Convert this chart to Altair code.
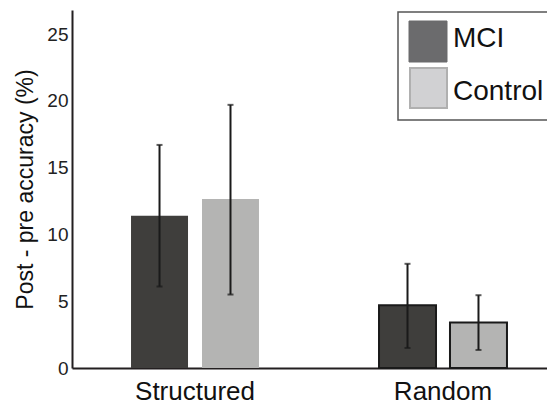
import altair as alt
import pandas as pd

categories = ["Structured", "Structured", "Random", "Random"]
groups = ["MCI", "Control", "MCI", "Control"]
means = [11.4, 12.65, 4.7, 3.4]
err_low = [6.1, 5.5, 1.5, 1.35]
err_high = [16.7, 19.7, 7.8, 5.45]
bar_colors = ["#3f3e3c", "#b4b4b3"]
legend_labels = ["MCI", "Control"]
legend_colors = ["#6b6b6d", "#d1d1d3"]
y_ticks = [0, 5, 10, 15, 20, 25]

df = pd.DataFrame({
    "category": categories,
    "group": groups,
    "mean": means,
    "lo": err_low,
    "hi": err_high,
})

FONT = "Liberation Sans"

x = alt.X(
    "category:N",
    sort=["Structured", "Random"],
    scale=alt.Scale(range=[0, 494], paddingInner=0.484, paddingOuter=0.238),
    axis=alt.Axis(title=None, labelAngle=0, labelFontSize=26, labelFont=FONT,
                  labelColor="#111", domainColor="#231f20", domainWidth=2,
                  ticks=False, labelPadding=10),
)
xo = alt.XOffset("group:N", sort=["MCI", "Control"],
                 scale=alt.Scale(paddingInner=0.197, paddingOuter=0))
y = alt.Y(
    "mean:Q",
    scale=alt.Scale(domain=[0, 26.8], nice=False),
    axis=alt.Axis(title="Post - pre accuracy (%)", values=y_ticks, ticks=False,
                  grid=False, labelFontSize=19, labelFont=FONT, labelColor="#222",
                  labelPadding=4, titleFont=FONT, titleFontSize=23,
                  titleFontWeight="normal", titleColor="#111", titlePadding=9,
                  domainColor="#231f20", domainWidth=2),
)

base = alt.Chart(df)

bars = base.mark_bar().encode(
    x=x, xOffset=xo, y=y,
    fill=alt.Fill("group:N", sort=["MCI", "Control"],
                  scale=alt.Scale(domain=["MCI", "Control"], range=bar_colors),
                  legend=None),
    stroke=alt.condition("datum.category == 'Random'", alt.value("#1a1a1a"), alt.value(None)),
    strokeWidth=alt.condition("datum.category == 'Random'", alt.value(2), alt.value(0)),
)

rules = base.mark_rule(color="#1a1a1a", strokeWidth=2).encode(
    x=x, xOffset=xo, y=alt.Y("lo:Q"), y2="hi:Q"
)
caps_lo = base.mark_tick(color="#1a1a1a", thickness=2, size=6).encode(
    x=x, xOffset=xo, y=alt.Y("lo:Q")
)
caps_hi = base.mark_tick(color="#1a1a1a", thickness=2, size=6).encode(
    x=x, xOffset=xo, y=alt.Y("hi:Q")
)

leg_df = pd.DataFrame({"label": legend_labels, "color": legend_colors})
box = alt.Chart(leg_df.head(1)).mark_rect(fill="white", stroke="#555555", strokeWidth=1.5).encode(
    x=alt.value(326), x2=alt.value(520), y=alt.value(2), y2=alt.value(110)
)
sw1 = alt.Chart(leg_df.iloc[[0]]).mark_rect(stroke="#6b6b6d", strokeWidth=1).encode(
    x=alt.value(337), x2=alt.value(375), y=alt.value(11), y2=alt.value(52),
    fill=alt.Fill("color:N", scale=None)
)
sw2 = alt.Chart(leg_df.iloc[[1]]).mark_rect(stroke="#b0b0b0", strokeWidth=2).encode(
    x=alt.value(338), x2=alt.value(375), y=alt.value(58), y2=alt.value(98),
    fill=alt.Fill("color:N", scale=None)
)
t1 = alt.Chart(leg_df.iloc[[0]]).mark_text(align="left", baseline="alphabetic", fontSize=28, font=FONT, color="#111").encode(
    x=alt.value(381), y=alt.value(37), text="label:N"
)
t2 = alt.Chart(leg_df.iloc[[1]]).mark_text(align="left", baseline="alphabetic", fontSize=28, font=FONT, color="#111").encode(
    x=alt.value(381), y=alt.value(90), text="label:N"
)

chart = alt.layer(bars, rules, caps_lo, caps_hi, box, sw1, sw2, t1, t2).properties(
    width=475, height=358,
    autosize=alt.AutoSizeParams(type="none"),
    padding={"left": 64, "top": 2, "right": 0, "bottom": 40},
    background="white",
).configure_view(stroke=None)

chart.save("out.html", embed_options={"renderer": "svg", "actions": False})
